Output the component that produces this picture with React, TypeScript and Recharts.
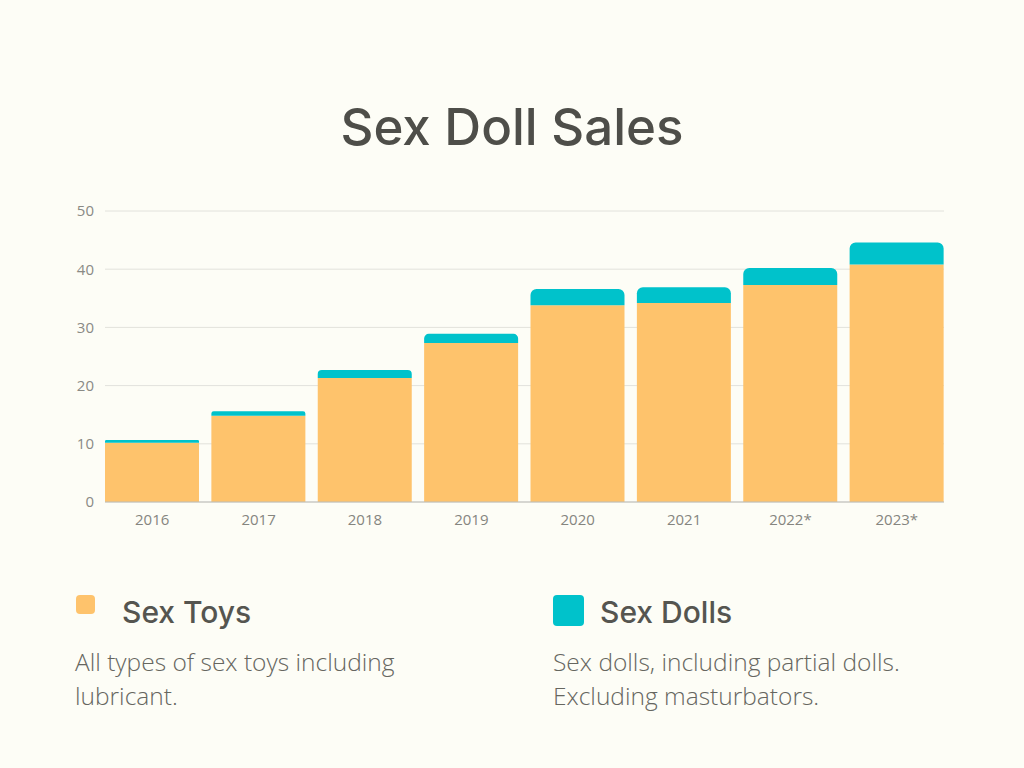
import React from "react";
import { BarChart, Bar, XAxis, YAxis, CartesianGrid } from "recharts";

const years = ["2016", "2017", "2018", "2019", "2020", "2021", "2022*", "2023*"];
const sexToys = [10.2, 14.8, 21.3, 27.3, 33.8, 34.2, 37.3, 40.8];
const sexDolls = [0.45, 0.8, 1.4, 1.6, 2.8, 2.7, 2.9, 3.8];
const yTicks = [0, 10, 20, 30, 40, 50];

const data = years.map((year, i) => ({ year, toys: sexToys[i], dolls: sexDolls[i] }));

const ORANGE = "#FEC36C";
const TEAL = "#00C2CB";
const BG = "#FDFDF6";

export default function App() {
  return (
    <div
      style={{
        position: "fixed",
        left: 0,
        top: 0,
        width: 1024,
        height: 768,
        background: BG,
        overflow: "hidden",
        fontFamily: "'Open Sans', sans-serif",
      }}
    >
      <div
        style={{
          position: "absolute",
          left: 0,
          top: 93,
          width: 1024,
          textAlign: "center",
          fontFamily: "Inter, sans-serif",
          fontWeight: 500,
          fontSize: 51,
          color: "#4E4E49",
          lineHeight: "68px",
        }}
      >
        Sex Doll Sales
      </div>
      <div style={{ position: "absolute", left: 0, top: 190 }}>
        <BarChart
          width={1024}
          height={360}
          data={data}
          margin={{ top: 21, right: 80, left: 45, bottom: 18 }}
          barCategoryGap={6}
        >
          <CartesianGrid vertical={false} stroke="#E2E2DC" strokeWidth={1} />
          <XAxis
            dataKey="year"
            padding={{ left: -6, right: -6 }}
            tickLine={false}
            tickSize={0}
            tickMargin={12}
            axisLine={{ stroke: "#BDBDB8" }}
            height={30}
            tick={{ fill: "#85857F", fontSize: 15, fontFamily: "'Open Sans', sans-serif" }}
          />
          <YAxis
            domain={[0, 50]}
            ticks={yTicks}
            width={60}
            tickLine={false}
            axisLine={false}
            tickSize={0}
            tickMargin={11}
            tick={{ fill: "#8A8A85", fontSize: 15, fontFamily: "'Open Sans', sans-serif" }}
          />
          <Bar dataKey="toys" stackId="a" fill={ORANGE} isAnimationActive={false} />
          <Bar dataKey="dolls" stackId="a" fill={TEAL} radius={[6, 6, 0, 0]} isAnimationActive={false} />
        </BarChart>
      </div>

      <div style={{ position: "absolute", left: 76, top: 595, width: 19, height: 19, borderRadius: 4, background: ORANGE }} />
      <div
        style={{
          position: "absolute",
          left: 122,
          top: 592,
          fontFamily: "Inter, sans-serif",
          fontWeight: 500,
          fontSize: 30,
          color: "#555550",
          lineHeight: "40px",
        }}
      >
        Sex Toys
      </div>
      <div
        style={{
          position: "absolute",
          left: 75,
          top: 645,
          fontWeight: 300,
          fontSize: 24.5,
          lineHeight: "34px",
          color: "#66665F",
        }}
      >
        All types of sex toys including
        <br />
        lubricant.
      </div>

      <div style={{ position: "absolute", left: 553, top: 595, width: 31, height: 31, borderRadius: 4, background: TEAL }} />
      <div
        style={{
          position: "absolute",
          left: 600,
          top: 592,
          fontFamily: "Inter, sans-serif",
          fontWeight: 500,
          fontSize: 30,
          color: "#555550",
          lineHeight: "40px",
        }}
      >
        Sex Dolls
      </div>
      <div
        style={{
          position: "absolute",
          left: 553,
          top: 645,
          fontWeight: 300,
          fontSize: 24.5,
          lineHeight: "34px",
          color: "#66665F",
        }}
      >
        Sex dolls, including partial dolls.
        <br />
        Excluding masturbators.
      </div>
    </div>
  );
}
